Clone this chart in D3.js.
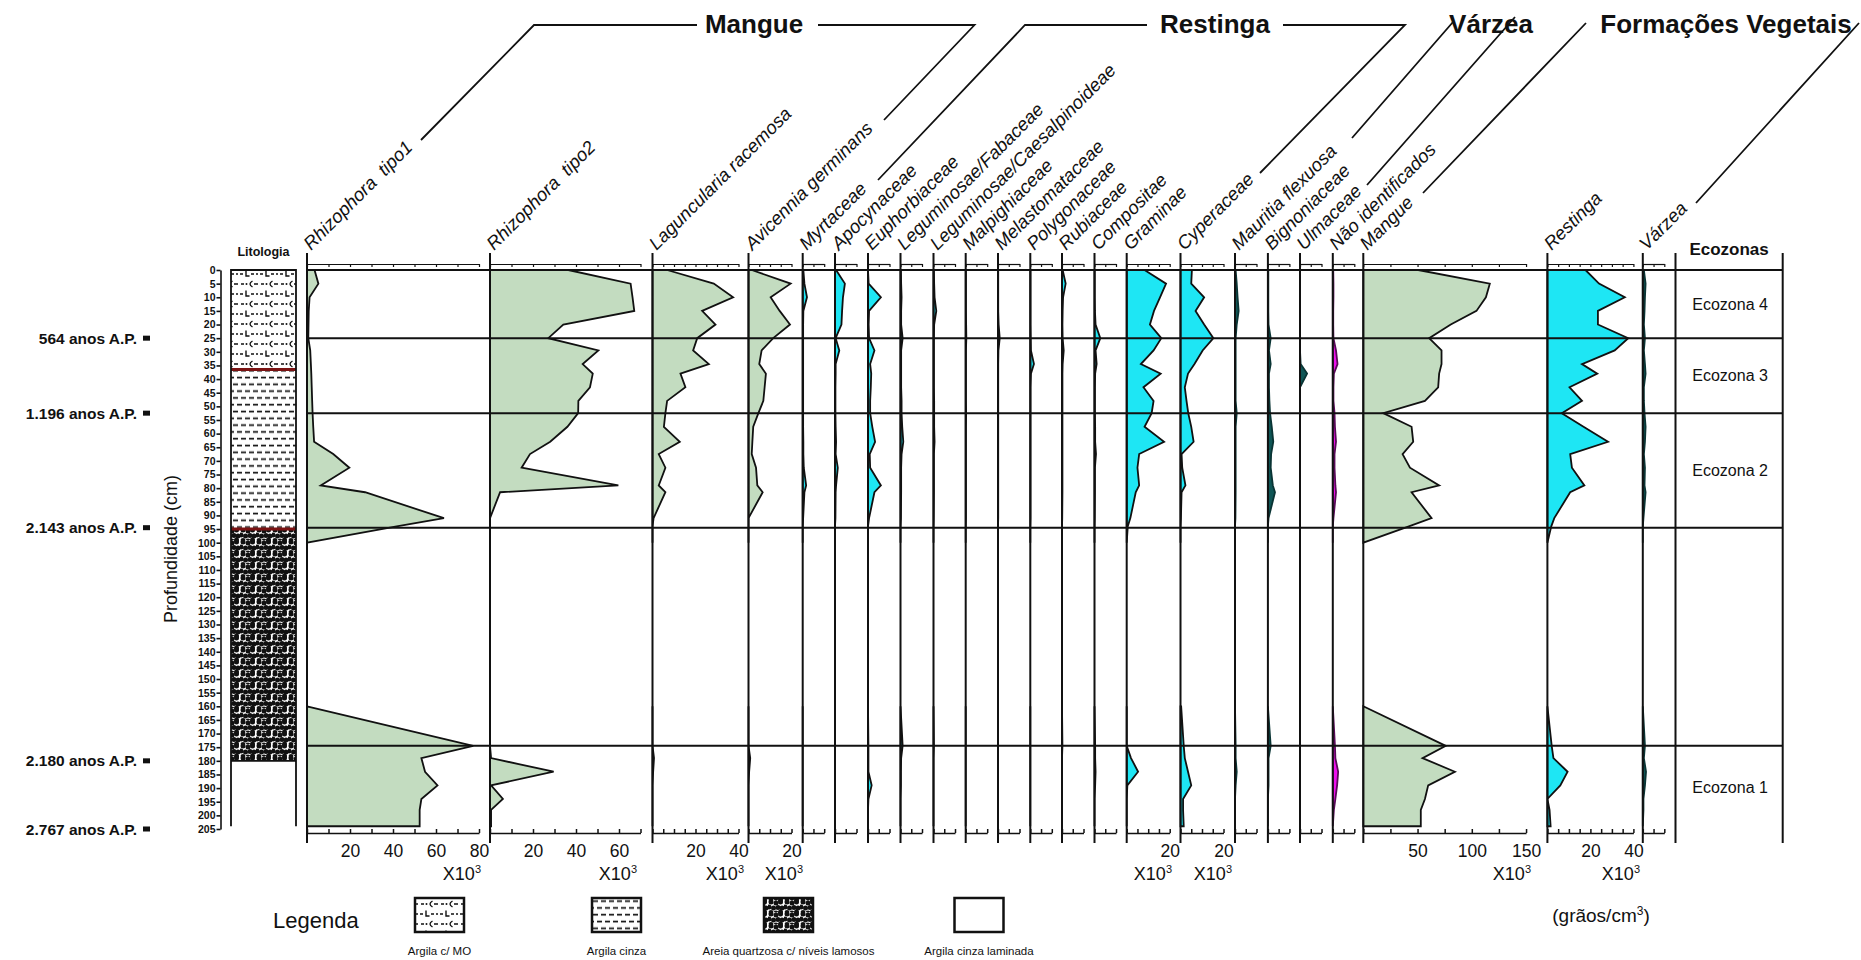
<!DOCTYPE html>
<html><head><meta charset="utf-8">
<script src="https://cdn.jsdelivr.net/npm/d3@7"></script>
<style>
html,body{margin:0;padding:0;background:#fff;}
svg text{font-family:"Liberation Sans",Arial,sans-serif;fill:#111;}
</style></head><body>
<svg id="chart" width="1861" height="960"></svg>
<script>
// Sample depths (cm): upper sequence and basal sequence
const depthsUpper = [0,5,10,15,20,25,29.5,34.5,38,43,48,52.5,57.5,63,67.5,72.5,79,81.5,91,94,100];
const depthsBase  = [160,174.5,179,184,189,194,198,204];

// Pollen concentration (x10^3 grains/cm3): 21 upper values followed by 8 basal values
const rhizophoraTipo1 = [3.5,5.3,1.2,0.8,0.7,0.6,1.5,1.8,2.0,2.2,2.4,2.6,2.9,3.3,12.2,19.7,6.4,27,63.7,41.7,0,   0,77.3,53.2,54.9,60.7,53.2,52.4,52.4];
const rhizophoraTipo2 = [36.4,65.4,66.3,67.1,34.1,27.1,50.4,43.1,47.8,46.5,41.1,41,36,28,18.6,14.7,59.7,4.7,0,0,0,   0,0,0.5,29.6,0.5,6,0.5,0.5];
const laguncularia    = [6.8,28.5,37.5,23.1,29.3,20.8,18.9,26.2,13,15.3,6.8,6,5.3,12.7,2.9,6,2.9,6,0.5,0,0,   0,0,0.7,0.3,0,0,0,0];
const avicennia       = [1.5,19.6,10.3,14.5,19.3,11.5,6.1,5,8.1,7.5,6.9,4.6,2.2,1.8,1.5,3.5,4.1,6.6,0,0,0,   0,0,0.8,0.3,0,0,0,0];
const myrtaceae       = [0.3,0.8,2,0.3,0.2,0.2,0.2,0.2,0.2,0.2,0.2,0.2,0.2,0.3,0.3,0.5,1.6,0.8,0.2,0,0,   0,0,0,0,0,0,0,0];
const apocynaceae     = [0.5,4.6,3.7,3.3,3,0.3,2,0.3,0.3,0.2,0.2,0.2,0.3,0.5,0.3,1.3,0.5,0.3,0.2,0,0,   0,0,0,0,0,0,0,0];
const euphorbiaceae   = [0,0.3,6,0.5,0.3,0.5,3,1,1.5,1.3,1,1,2,3.3,0.8,1,6,3,0.5,0,0,   0,0.2,0.2,0.2,1.7,0.2,0,0];
const legFabaceae     = [0.2,0.3,0.5,0.3,0.3,1,0.3,0.3,0.3,0.3,0.5,0.5,0.8,1.3,0.5,0.3,0.3,0.3,0.2,0,0,   0,1,0.3,0.2,0.2,0,0,0];
const legCaesalp      = [0.2,0.3,0.5,1.3,0.3,0.2,0.2,0.2,0.2,0.2,0.3,0.3,0.3,0.5,0.2,0.2,0.2,0.2,0.1,0,0,   0,0.2,0,0,0,0,0,0];
const malpighiaceae   = [0.1,0.1,0.1,0.1,0.2,0.3,0.1,0.1,0.1,0.1,0.1,0.2,0.1,0.1,0.1,0.1,0.1,0.1,0.1,0,0,   0,0,0,0,0,0,0,0];
const melastomataceae = [0.1,0.1,0.1,0.1,0.3,0.8,0.2,0.1,0.1,0.1,0.1,0.1,0.1,0.1,0.1,0.1,0.1,0.1,0.1,0,0,   0,0,0,0,0,0,0,0];
const polygonaceae    = [0.1,0.1,0.1,0.1,0.1,0.2,0.3,1.7,0.3,0.1,0.1,0.1,0.1,0.1,0.1,0.1,0.1,0.1,0.1,0,0,   0,0,0,0,0,0,0,0];
const rubiaceae       = [0.3,1.7,0.5,0.3,0.2,0.3,0.8,0.3,0.2,0.2,0.2,0.2,0.2,0.2,0.2,0.2,0.2,0.2,0.1,0,0,   0,0.2,0,0,0,0,0,0];
const compositae      = [0.1,0.1,0.1,0.2,0.5,2.7,0.5,1,0.3,0.2,0.2,0.2,0.3,0.3,0.7,0.2,0.2,0.2,0.1,0,0,   0,0.3,0.3,0.5,0.3,0,0,0];
const graminae        = [8.3,18.3,15.5,12.7,10.8,16.1,12.5,6.6,15.8,7.8,12.5,11.6,8.3,17.4,5.8,5,5.8,4.2,1.7,0.5,0,   0,0,2,5.3,0.3,0,0,0];
const cyperaceae      = [5.3,5,11,7,11,15.3,10.3,6.5,3.5,2,2.8,3.6,5,6.1,0.5,0.8,2.3,0.5,0.2,0,0,   0.3,1.5,2,3.5,5,1.2,1.2,1.5];
const mauritia        = [0.3,0.8,1.2,1.7,0.8,0.3,0.3,0.3,0.3,0.3,0.3,0.8,0.3,0.3,0.3,0.3,0.3,0.3,0.2,0,0,   0,0.3,0.3,0.8,0.3,0,0,0];
const bignoniaceae    = [0.2,0.2,0.2,0.2,0.3,1.3,0.5,1.3,0.5,0.5,0.7,1,1.8,2.5,1.5,1.3,2.3,3.3,0.3,0,0,   0,1.3,0.3,0.3,0.3,0,0,0];
const ulmaceae        = [0,0,0,0,0,0,0,0.3,3.3,0,0,0,0,0,0,0,0,0,0,0,0,   0,0,0,0,0,0,0,0];
const naoIdentificados= [0.2,0.3,0.3,0.2,0.2,0.3,1.5,2.2,0.5,0.3,0.3,0.8,1,1.5,0.8,0.8,1.2,1.5,0.3,0,0,   0,1,1.2,2.5,2,1.2,0.5,0];
const mangueTotal     = [50.6,116.6,113,104.3,80.6,60.7,72.1,72.1,69.9,69,56.8,18.4,44.5,46,36.2,43,69.9,44.5,62.9,42,0,   0,76,54.6,84.4,59.8,56.8,53,53];
const restingaTotal   = [17.7,24,36,23.5,23.5,37.6,31.3,16.1,23.2,10.3,16.1,6.7,16.8,28.2,10.6,11.4,17.2,10.6,3.2,1.8,0,   0,2,2.8,9.4,6,0,1,1.5];
const varzeaTotal     = [0.5,1.3,1,0.8,0.5,1,0.5,1,1.3,0.5,0.5,0.8,1.3,1,0.5,1,0.8,1.3,0.3,0,0,   0,1,0.5,1.5,1,0.3,0.3,0];

// Taxon names, groups and axis extents
const taxonNames = ["Rhizophora  tipo1","Rhizophora  tipo2","Laguncularia racemosa","Avicennia germinans",
  "Myrtaceae","Apocynaceae","Euphorbiaceae","Leguminosae/Fabaceae","Leguminosae/Caesalpinoideae",
  "Malpighiaceae","Melastomataceae","Polygonaceae","Rubiaceae","Compositae","Graminae","Cyperaceae",
  "Mauritia flexuosa","Bignoniaceae","Ulmaceae","Não identificados","Mangue","Restinga","Várzea"];
const taxonSeries = [rhizophoraTipo1,rhizophoraTipo2,laguncularia,avicennia,myrtaceae,apocynaceae,euphorbiaceae,
  legFabaceae,legCaesalp,malpighiaceae,melastomataceae,polygonaceae,rubiaceae,compositae,graminae,cyperaceae,
  mauritia,bignoniaceae,ulmaceae,naoIdentificados,mangueTotal,restingaTotal,varzeaTotal];
const taxonGroup = ["mangue","mangue","mangue","mangue","restinga","restinga","restinga","restinga","restinga",
  "restinga","restinga","restinga","restinga","restinga","restinga","restinga","varzea","varzea","varzea","nid",
  "mangue","restinga","varzea"];
const axisMax   = [80,70,40,20,10,10,10,10,10,10,10,10,10,10,20,20,10,10,10,10,150,40,10];
const tickStep  = [10,10,5,5,5,5,5,5,5,5,5,5,5,5,5,5,5,5,5,5,25,5,5];
const tickLabels = [[20,40,60,80],[20,40,60],[20,40],[20],[],[],[],[],[],[],[],[],[],[],[20],[20],[],[],[],[],[50,100,150],[20,40],[]];

// Dated levels (cm) and their ages
const dateDepths = [25,52.5,94.5,180,205];
const dateLabels = ["564 anos A.P.","1.196 anos A.P.","2.143 anos A.P.","2.180 anos A.P.","2.767 anos A.P."];

// Ecozone boundaries (cm) and names
const zoneBounds = [0,25,52.5,94.5,174.5];
const zoneNames  = ["Ecozona 4","Ecozona 3","Ecozona 2","Ecozona 1"];
const zoneSpans  = [[0,25],[25,52.5],[52.5,94.5],[174.5,205]];

// Lithology units (cm)
const lithoTop    = [0,36.5,95,180];
const lithoBottom = [36.5,95,180,204];
const lithoKind   = ["mo","cinza","areia","laminada"];
const legendNames = ["Argila c/ MO","Argila cinza","Areia quartzosa c/ níveis lamosos","Argila cinza laminada"];

// ---------- layout ----------
const panelLeft = [307,490,652.5,748.5,802.7,835,868,900.5,933.5,965.7,998,1030.3,1062,1094.5,1126.7,1180.5,
  1235,1267.9,1300,1332.8,1363.3,1547.4,1642.8];
const PX_PER_UNIT = 2.15, PX_PER_UNIT_SUM = 1.085;
const unitLabelEnd = {0:481,1:637,2:744,3:803,14:1172,15:1232,20:1531,21:1640};
const fills   = {mangue:"#c3dcc0", restinga:"#1ee6f4", varzea:"#0f5656", nid:"#ee10ee"};
const strokes = {mangue:"#111", restinga:"#111", varzea:"#0a3434", nid:"#5a0a5a"};

const svg = d3.select("#chart");
svg.append("rect").attr("width",1861).attr("height",960).attr("fill","#fff");
const defs = svg.append("defs");

const y = d3.scaleLinear().domain([0,205]).range([270,829]);
const PANEL_TOP = 253, PANEL_BOTTOM = 843, AXIS_Y = 833, TOP_AXIS_Y = 264;
const ZONE_RIGHT = 1782.7, ECO_LEFT = 1675.5;

// ---------- lithology patterns ----------
function patMO(id){
  const p = defs.append("pattern").attr("id",id).attr("patternUnits","userSpaceOnUse").attr("width",20).attr("height",20);
  p.append("rect").attr("width",20).attr("height",20).attr("fill","#fff");
  const g = p.append("g").attr("stroke","#111").attr("stroke-width",1.4).attr("fill","none");
  g.append("path").attr("d","M1,4H4 M14,4H18 M0,14H3 M11,14H14");
  g.append("path").attr("d","M12.5,1 Q7.5,4 12.5,7");
  g.append("path").attr("d","M6,10.5V16H9.5");
  p.append("circle").attr("cx",6.5).attr("cy",4).attr("r",1).attr("fill","#111");
  p.append("circle").attr("cx",17).attr("cy",14).attr("r",1).attr("fill","#111");
}
function patCinza(id){
  const p = defs.append("pattern").attr("id",id).attr("patternUnits","userSpaceOnUse").attr("width",16).attr("height",13.6);
  p.append("rect").attr("width",16).attr("height",13.6).attr("fill","#fff");
  p.append("path").attr("stroke","#111").attr("stroke-width",1.7)
    .attr("d","M1,3.4H6 M9,3.4H14 M-3,10.2H2 M5,10.2H10 M13,10.2H18");
}
function patAreia(id){
  // clustered dark grains separated by thin light columns
  const p = defs.append("pattern").attr("id",id).attr("patternUnits","userSpaceOnUse").attr("width",16).attr("height",12);
  p.append("rect").attr("width",16).attr("height",12).attr("fill","#fff");
  [[3,2],[8,3],[12.5,2],[1,7],[5.5,8],[10,7.5],[14,8],[3,12.5],[8,13],[12.5,12],[3,-1],[8,-2],[12.5,0]].forEach(c=>{
    p.append("circle").attr("cx",c[0]).attr("cy",c[1]).attr("r",2.5).attr("fill","#111");
  });
}
patMO("p-mo"); patCinza("p-cinza"); patAreia("p-areia");
const lithoFill = {mo:"url(#p-mo)", cinza:"url(#p-cinza)", areia:"url(#p-areia)", laminada:"#fff"};

// ---------- lithology column ----------
const LX0 = 231, LX1 = 296;
lithoKind.forEach((k,i)=>{
  svg.append("rect").attr("x",LX0).attr("y",y(lithoTop[i])).attr("width",LX1-LX0)
    .attr("height",y(lithoBottom[i])-y(lithoTop[i])).attr("fill",lithoFill[k]);
});
svg.append("path").attr("stroke","#7a1212").attr("stroke-width",3).attr("fill","none")
  .attr("d",`M${LX0},${y(36.5)}H${LX1} M${LX0},${y(95)}H${LX1}`);
svg.append("path").attr("stroke","#111").attr("stroke-width",1.8).attr("fill","none")
  .attr("d",`M${LX0},${y(204)}V${y(0)}H${LX1}V${y(204)} M${LX0},${y(180)}H${LX1}`);
svg.append("text").attr("x",(LX0+LX1)/2).attr("y",256).attr("text-anchor","middle")
  .attr("font-weight","bold").attr("font-size",12.5).text("Litologia");

// ---------- depth axis ----------
const depthAxis = svg.append("g").attr("transform","translate(220.5,0)")
  .call(d3.axisLeft(y).tickValues(d3.range(0,206,5)).tickSize(4).tickSizeOuter(0).tickPadding(1));
depthAxis.selectAll("path,line").attr("stroke","#111").attr("stroke-width",1.6);
depthAxis.selectAll("text").attr("font-family","'DejaVu Sans',sans-serif").attr("font-weight","bold")
  .attr("font-size",10.5).attr("fill","#111");
svg.append("text").attr("transform","translate(177,549) rotate(-90)").attr("text-anchor","middle")
  .attr("font-size",18).text("Profundidade (cm)");

// dated levels
dateDepths.forEach((d,i)=>{
  svg.append("text").attr("x",137).attr("y",y(d)).attr("dy","0.36em").attr("text-anchor","end")
    .attr("font-weight","bold").attr("font-size",15.5).text(dateLabels[i]);
  svg.append("rect").attr("x",143).attr("y",y(d)-2.5).attr("width",7).attr("height",5).attr("fill","#111");
});

// ---------- taxon panels ----------
const areaGen = (x)=> d3.area().x0(x(0)).x1(d=>x(d.v)).y(d=>y(d.d)).curve(d3.curveLinear);
const nUp = depthsUpper.length;

taxonNames.forEach((name,i)=>{
  const k = i===20 ? PX_PER_UNIT_SUM : PX_PER_UNIT;
  const x = d3.scaleLinear().domain([0,axisMax[i]]).range([panelLeft[i], panelLeft[i]+axisMax[i]*k]);
  const vals = taxonSeries[i];
  const up = depthsUpper.map((d,j)=>({d, v:vals[j]}));
  const base = depthsBase.map((d,j)=>({d, v:vals[nUp+j]}));
  const grp = taxonGroup[i];
  [up,base].forEach(seg=>{
    svg.append("path").datum(seg).attr("d",areaGen(x)).attr("fill",fills[grp])
      .attr("stroke",strokes[grp]).attr("stroke-width",1.8).attr("stroke-linejoin","miter");
  });

  const ticks = d3.range(0, axisMax[i]+0.001, tickStep[i]);
  const labs = tickLabels[i];
  const bottom = svg.append("g").attr("transform",`translate(0,${AXIS_Y})`)
    .call(d3.axisBottom(x).tickValues(ticks).tickSize(-4).tickSizeOuter(0).tickPadding(12)
      .tickFormat(v=> labs.includes(v) ? v : ""));
  bottom.selectAll("path,line").attr("stroke","#111").attr("stroke-width",1.5);
  bottom.selectAll("text").attr("font-size",17.5).attr("fill","#111").attr("font-family","'Liberation Sans',Arial,sans-serif");

  const top = svg.append("g").attr("transform",`translate(0,${TOP_AXIS_Y})`)
    .call(d3.axisBottom(x).tickValues(ticks).tickSize(3).tickSizeOuter(0).tickFormat(""));
  top.selectAll("path,line").attr("stroke","#111").attr("stroke-width",1.2);

  // taxon label
  svg.append("text").attr("transform",`translate(${panelLeft[i]+4},251) rotate(-45)`)
    .attr("font-style","italic").attr("font-size",18.5).style("white-space","pre").text(name);

  if (unitLabelEnd[i] !== undefined){
    const t = svg.append("text").attr("x",unitLabelEnd[i]).attr("y",880).attr("text-anchor","end").attr("font-size",18);
    t.append("tspan").text("X10");
    t.append("tspan").attr("dy",-7).attr("font-size",11).text("3");
  }
});

// ---------- zone lines & frame lines ----------
zoneBounds.forEach(d=>{
  svg.append("line").attr("x1",panelLeft[0]).attr("x2",ZONE_RIGHT).attr("y1",y(d)).attr("y2",y(d))
    .attr("stroke","#111").attr("stroke-width",2);
});
panelLeft.concat([ECO_LEFT, ZONE_RIGHT]).forEach(px=>{
  svg.append("line").attr("x1",px).attr("x2",px).attr("y1",PANEL_TOP).attr("y2",PANEL_BOTTOM)
    .attr("stroke","#111").attr("stroke-width",2);
});

// ecozones
svg.append("text").attr("x",(ECO_LEFT+ZONE_RIGHT)/2).attr("y",255).attr("text-anchor","middle")
  .attr("font-weight","bold").attr("font-size",17).text("Ecozonas");
zoneNames.forEach((n,i)=>{
  svg.append("text").attr("x",(ECO_LEFT+ZONE_RIGHT)/2+1).attr("y",y((zoneSpans[i][0]+zoneSpans[i][1])/2))
    .attr("dy","0.36em").attr("text-anchor","middle").attr("font-size",16).text(n);
});

// ---------- group headers ----------
const headers = [
  {text:"Mangue", x:754, lines:"M697,25H534L421,140 M818,25H974.5L884,120"},
  {text:"Restinga", x:1215, lines:"M1147,25H1025L878,180 M1283,25H1405L1260,173"},
  {text:"Várzea", x:1491, lines:"M1453,22L1352,138 M1515,17L1367,185"},
  {text:"Formações Vegetais", x:1726, lines:"M1586,23L1423,193 M1859,23L1696,203"}
];
headers.forEach(h=>{
  svg.append("path").attr("d",h.lines).attr("fill","none").attr("stroke","#111").attr("stroke-width",1.8);
  svg.append("text").attr("x",h.x).attr("y",33).attr("text-anchor","middle").attr("font-weight","bold")
    .attr("font-size",26).text(h.text);
});

// units
const u = svg.append("text").attr("x",1601).attr("y",922).attr("text-anchor","middle").attr("font-size",19);
u.append("tspan").text("(grãos/cm");
u.append("tspan").attr("dy",-7).attr("font-size",12).text("3");
u.append("tspan").attr("dy",7).text(")");

// ---------- legend ----------
svg.append("text").attr("x",273).attr("y",928).attr("font-size",22).text("Legenda");
const legendX = [415,592,764,954.5];
lithoKind.forEach((k,i)=>{
  svg.append("rect").attr("x",legendX[i]).attr("y",898).attr("width",49).attr("height",34)
    .attr("fill",lithoFill[k]).attr("stroke","#111").attr("stroke-width",2.5);
  svg.append("text").attr("x",legendX[i]+24.5).attr("y",955).attr("text-anchor","middle")
    .attr("font-size",11.5).text(legendNames[i]);
});
</script>
</body></html>
